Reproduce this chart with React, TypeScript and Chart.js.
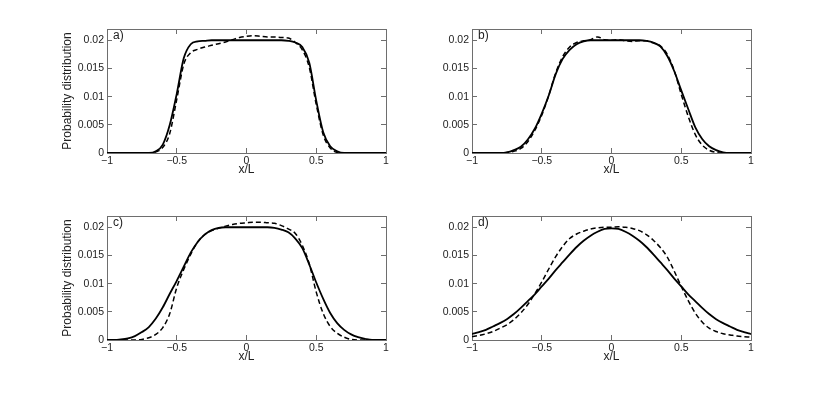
import React, { useEffect, useRef } from 'react';
import { Chart, registerables } from 'chart.js';

Chart.register(...registerables);

// ---- data ----
const X = [-1, -0.95, -0.9, -0.85, -0.8, -0.75, -0.7, -0.65, -0.6, -0.55, -0.5, -0.45, -0.4, -0.35, -0.3, -0.25, -0.2, -0.15, -0.1, -0.05, 0, 0.05, 0.1, 0.15, 0.2, 0.25, 0.3, 0.35, 0.4, 0.45, 0.5, 0.55, 0.6, 0.65, 0.7, 0.75, 0.8, 0.85, 0.9, 0.95, 1];

const A_SOLID = [0, 0, 0, 0, 0, 0, 0, 0.0003, 0.0015, 0.005, 0.0105, 0.0168, 0.0193, 0.0198, 0.0199, 0.02, 0.02, 0.02, 0.02, 0.02, 0.02, 0.02, 0.02, 0.02, 0.02, 0.02, 0.0199, 0.0196, 0.0188, 0.016, 0.0093, 0.0037, 0.0012, 0.0003, 0, 0, 0, 0, 0, 0, 0];
const A_DASHED = [0, 0, 0, 0, 0, 0, 0, 0.0002, 0.001, 0.0035, 0.0095, 0.0157, 0.0178, 0.0184, 0.0188, 0.0191, 0.0194, 0.0197, 0.0201, 0.0205, 0.0207, 0.0208, 0.0207, 0.0206, 0.0206, 0.0205, 0.0204, 0.0196, 0.0183, 0.0152, 0.0086, 0.0032, 0.0009, 0.0001, 0, 0, 0, 0, 0, 0, 0];

const B_SOLID = [0, 0, 0, 0, 0, 0.0001, 0.0005, 0.0011, 0.0024, 0.0043, 0.007, 0.0102, 0.014, 0.0167, 0.0183, 0.0193, 0.0198, 0.02, 0.02, 0.02, 0.02, 0.02, 0.02, 0.02, 0.02, 0.0199, 0.0196, 0.0189, 0.0172, 0.0145, 0.0111, 0.0078, 0.0046, 0.0025, 0.0012, 0.0005, 0.0001, 0, 0, 0, 0];
const B_DASHED = [0, 0, 0, 0, 0, 0.0001, 0.0003, 0.0008, 0.002, 0.004, 0.0067, 0.0102, 0.0142, 0.0171, 0.0188, 0.0196, 0.0199, 0.0201, 0.0206, 0.0201, 0.02, 0.0201, 0.0199, 0.0198, 0.0199, 0.0199, 0.0195, 0.019, 0.0175, 0.0146, 0.0104, 0.0065, 0.0033, 0.0014, 0.0005, 0.0001, 0, 0, 0, 0, 0];

const C_SOLID = [0, 0, 0.0001, 0.0003, 0.0007, 0.0014, 0.0023, 0.0038, 0.0058, 0.0082, 0.0105, 0.013, 0.0155, 0.0174, 0.0187, 0.0195, 0.0199, 0.02, 0.02, 0.02, 0.02, 0.02, 0.02, 0.02, 0.0199, 0.0196, 0.0191, 0.018, 0.0163, 0.0134, 0.0102, 0.0073, 0.0048, 0.003, 0.0018, 0.001, 0.0005, 0.0002, 0, 0, 0];
const C_DASHED = [0, 0, 0, 0, 0, 0.0001, 0.0004, 0.001, 0.0022, 0.0047, 0.0093, 0.0125, 0.0152, 0.0174, 0.0187, 0.0194, 0.0198, 0.0202, 0.0205, 0.0207, 0.0208, 0.0209, 0.0209, 0.0208, 0.0207, 0.0203, 0.0197, 0.0189, 0.0168, 0.0135, 0.0085, 0.0047, 0.0024, 0.0012, 0.0005, 0.0001, 0, 0, 0, 0, 0];

const D_SOLID = [0.00105, 0.0014, 0.0018, 0.0024, 0.003, 0.0037, 0.0046, 0.0057, 0.0069, 0.0081, 0.0095, 0.0109, 0.0124, 0.0138, 0.0152, 0.0165, 0.0176, 0.0185, 0.0192, 0.0197, 0.0198, 0.0197, 0.0192, 0.0185, 0.0176, 0.0165, 0.0152, 0.0138, 0.0124, 0.0109, 0.0095, 0.0081, 0.0069, 0.0057, 0.0046, 0.0037, 0.003, 0.0024, 0.0018, 0.0014, 0.00105];
const D_DASHED = [0.0006, 0.0008, 0.0011, 0.0015, 0.0021, 0.0027, 0.0036, 0.0048, 0.0063, 0.0082, 0.0103, 0.0126, 0.0148, 0.0166, 0.018, 0.0188, 0.0193, 0.0197, 0.0199, 0.02, 0.02, 0.0201, 0.02, 0.0198, 0.0194, 0.0187, 0.0177, 0.0164, 0.0147, 0.0122, 0.0095, 0.007, 0.0048, 0.0032, 0.0021, 0.0015, 0.0011, 0.0009, 0.0007, 0.0006, 0.0005];

const X_TICKS = [-1, -0.5, 0, 0.5, 1];
const X_TICK_LABELS = ['\u22121', '\u22120.5', '0', '0.5', '1'];
const Y_TICKS = [0, 0.005, 0.01, 0.015, 0.02];
const Y_TICK_LABELS = ['0', '0.005', '0.01', '0.015', '0.02'];
const PANEL_LABELS = ['a)', 'b)', 'c)', 'd)'];
const X_TITLE = 'x/L';
const Y_TITLE = 'Probability distribution';

// ---- styles ----
const FONT = "'Liberation Sans', Arial, Helvetica, sans-serif";
const BOX = '#6e6e6e';
const TEXT = '#222';

const panelLabelPlugin = {
  id: 'panelLabel',
  afterDraw(chart: any, _args: any, opts: any) {
    const { ctx, chartArea } = chart;
    ctx.save();
    ctx.font = `12px ${FONT}`;
    ctx.fillStyle = TEXT;
    ctx.textAlign = 'left';
    ctx.textBaseline = 'middle';
    ctx.fillText(opts.text, chartArea.left + 6, chartArea.top + 7);
    ctx.restore();
  },
};

type PanelProps = {
  solid: number[];
  dashed: number[];
  label: string;
  showYTitle: boolean;
  left: number;
  top: number;
  width: number;
  height: number;
  padTop: number;
  padRight: number;
  padBottom: number;
  yWidth: number;
};

function Panel(p: PanelProps) {
  const ref = useRef<HTMLCanvasElement | null>(null);
  useEffect(() => {
    if (!ref.current) return;
    const setXTicks = (s: any) => {
      s.ticks = X_TICKS.map((v) => ({ value: v }));
    };
    const setYTicks = (s: any) => {
      s.ticks = Y_TICKS.map((v) => ({ value: v }));
    };
    const chart = new Chart(ref.current, {
      type: 'line',
      data: {
        datasets: [
          {
            data: X.map((x, i) => ({ x, y: p.solid[i] })),
            borderColor: '#000',
            borderWidth: 1.8,
            pointRadius: 0,
            fill: false,
            cubicInterpolationMode: 'monotone',
          },
          {
            data: X.map((x, i) => ({ x, y: p.dashed[i] })),
            borderColor: '#000',
            borderWidth: 1.5,
            borderDash: [5, 3],
            pointRadius: 0,
            fill: false,
            cubicInterpolationMode: 'monotone',
          },
        ],
      },
      options: {
        animation: false,
        responsive: false,
        maintainAspectRatio: false,
        layout: { padding: { left: 0, top: p.padTop, right: p.padRight, bottom: p.padBottom } },
        plugins: {
          legend: { display: false },
          tooltip: { enabled: false },
          panelLabel: { text: p.label },
        } as any,
        scales: {
          x: {
            type: 'linear',
            position: 'bottom',
            min: -1,
            max: 1,
            afterBuildTicks: setXTicks,
            afterFit: (s: any) => {
              s.height = 44;
            },
            ticks: {
              callback: (_v: any, i: number) => X_TICK_LABELS[i],
              font: { family: FONT, size: 10.5 },
              color: TEXT,
              padding: 7,
              maxRotation: 0,
              autoSkip: false,
            },
            grid: { drawOnChartArea: false, drawTicks: true, tickLength: -5, color: BOX },
            border: { display: true, color: BOX, width: 1 },
            title: {
              display: true,
              text: X_TITLE,
              font: { family: FONT, size: 12 },
              color: TEXT,
              padding: { top: 0, bottom: 20 },
            },
          },
          x2: {
            type: 'linear',
            position: 'top',
            min: -1,
            max: 1,
            afterBuildTicks: setXTicks,
            afterFit: (s: any) => {
              s.height = 0;
            },
            ticks: { display: false },
            grid: { drawOnChartArea: false, drawTicks: true, tickLength: -5, color: BOX },
            border: { display: true, color: BOX, width: 1 },
          },
          y: {
            type: 'linear',
            position: 'left',
            min: 0,
            max: 0.022,
            afterBuildTicks: setYTicks,
            afterFit: (s: any) => {
              s.width = p.yWidth;
            },
            ticks: {
              callback: (_v: any, i: number) => Y_TICK_LABELS[i],
              font: { family: FONT, size: 10.5 },
              color: TEXT,
              padding: 8,
            },
            grid: { drawOnChartArea: false, drawTicks: true, tickLength: -5, color: BOX },
            border: { display: true, color: BOX, width: 1 },
            title: {
              display: p.showYTitle,
              text: Y_TITLE,
              font: { family: FONT, size: 12 },
              color: TEXT,
              padding: { top: 60, bottom: 0 },
            },
          },
          y2: {
            type: 'linear',
            position: 'right',
            min: 0,
            max: 0.022,
            afterBuildTicks: setYTicks,
            afterFit: (s: any) => {
              s.width = 0;
            },
            ticks: { display: false },
            grid: { drawOnChartArea: false, drawTicks: true, tickLength: -5, color: BOX },
            border: { display: true, color: BOX, width: 1 },
          },
        },
      } as any,
      plugins: [panelLabelPlugin],
    });
    return () => chart.destroy();
  }, []);
  return (
    <canvas
      ref={ref}
      width={p.width}
      height={p.height}
      style={{ position: 'absolute', left: p.left, top: p.top, width: p.width, height: p.height, display: 'block' }}
    />
  );
}

export default function App() {
  return (
    <div style={{ position: 'fixed', left: 0, top: 0, width: 830, height: 395, background: '#fff', overflow: 'hidden' }}>
      <Panel solid={A_SOLID} dashed={A_DASHED} label={PANEL_LABELS[0]} showYTitle={true}
        left={0} top={0} width={415} height={197} padTop={29} padRight={29} padBottom={0} yWidth={107} />
      <Panel solid={B_SOLID} dashed={B_DASHED} label={PANEL_LABELS[1]} showYTitle={false}
        left={415} top={0} width={415} height={197} padTop={29} padRight={79} padBottom={0} yWidth={57} />
      <Panel solid={C_SOLID} dashed={C_DASHED} label={PANEL_LABELS[2]} showYTitle={true}
        left={0} top={197} width={415} height={198} padTop={19} padRight={29} padBottom={11} yWidth={107} />
      <Panel solid={D_SOLID} dashed={D_DASHED} label={PANEL_LABELS[3]} showYTitle={false}
        left={415} top={197} width={415} height={198} padTop={19} padRight={79} padBottom={11} yWidth={57} />
    </div>
  );
}
